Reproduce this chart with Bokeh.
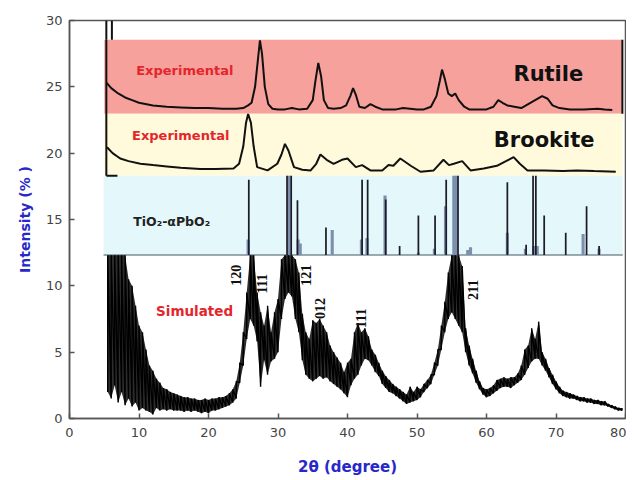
import numpy as np
from bokeh.plotting import figure
from bokeh.models import Range1d
from bokeh.core.properties import value
from bokeh.embed import file_html
from bokeh.resources import INLINE

# ---------------- data ----------------
# Rutile experimental pattern (offset trace)
rutile_x = [5.35, 6, 7, 8, 9, 10, 12, 14, 16, 18, 20, 22, 24, 25, 25.7, 26.2, 26.7, 27.1, 27.4, 27.7,
            28.1, 28.6, 29.2, 30, 31, 32, 33, 34.2, 35, 35.4, 35.8, 36.2, 36.6, 37.2, 38, 39, 39.8,
            40.4, 40.8, 41.2, 41.7, 42.5, 43.3, 44, 45, 46, 47, 48, 49, 50, 51, 52, 52.8, 53.3, 53.6,
            54.0, 54.5, 55.0, 55.5, 56.0, 56.8, 57.5, 58.5, 60, 61, 61.7, 62.3, 63, 64, 65, 66, 67,
            68, 68.8, 69.5, 70.5, 72, 74, 76, 77, 78.1]
rutile_y = [25.3, 24.9, 24.5, 24.2, 24.0, 23.8, 23.6, 23.5, 23.45, 23.4, 23.4, 23.35, 23.35, 23.4, 23.6,
            23.8, 25.0, 27.0, 28.5, 27.5, 25.0, 23.7, 23.35, 23.3, 23.3, 23.4, 23.3, 23.35, 24.0, 25.5,
            26.8, 25.8, 24.0, 23.4, 23.35, 23.4, 23.6, 24.3, 24.9, 24.4, 23.5, 23.4, 23.7, 23.5, 23.3,
            23.3, 23.3, 23.4, 23.35, 23.3, 23.3, 23.5, 24.3, 25.5, 26.3, 25.6, 24.5, 24.3, 24.5, 24.0,
            23.5, 23.3, 23.3, 23.3, 23.5, 24.0, 23.8, 23.6, 23.5, 23.4, 23.7, 24.0, 24.3, 24.1, 23.6,
            23.4, 23.3, 23.3, 23.35, 23.3, 23.25]

# Brookite experimental pattern (offset trace)
brookite_x = [5.4, 6.2, 7.3, 8.5, 10.2, 12, 14, 16, 18.8, 21, 23.6, 24.4, 25.0, 25.4, 25.7, 26.1, 26.5,
              27.0, 28.5, 29.9, 30.5, 31.0, 31.5, 32.3, 33.5, 34.7, 35.5, 36.1, 37.0, 38.0, 39.2, 40.0,
              41.2, 42.1, 43.3, 45.0, 45.9, 46.6, 47.6, 49.1, 50.5, 52.4, 53.8, 54.6, 55.3, 56.5, 57.7,
              59.6, 61.5, 62.8, 63.9, 64.8, 65.9, 68.3, 71, 73.0, 75.5, 78.6]
brookite_y = [20.45, 20.0, 19.6, 19.4, 19.2, 19.1, 19.0, 18.9, 18.8, 18.8, 18.85, 19.2, 20.5, 22.3, 22.95,
              22.3, 20.5, 18.95, 18.7, 19.2, 19.9, 20.7, 20.2, 18.95, 18.75, 18.7, 19.2, 19.9, 19.5,
              19.2, 19.5, 19.6, 18.95, 19.1, 18.7, 18.7, 19.1, 19.05, 19.6, 19.05, 18.6, 18.7, 19.5,
              19.1, 19.2, 19.4, 18.7, 18.85, 19.05, 19.4, 19.7, 19.2, 18.7, 18.7, 18.65, 18.7, 18.65, 18.6]

# TiO2-aPbO2 reference sticks
stick_dark_x = [25.8, 31.3, 31.9, 32.8, 36.9, 42.1, 42.9, 45.5, 47.5, 50.2, 52.6, 54.2, 55.9, 63.0,
                65.7, 66.7, 67.1, 68.3, 71.4, 74.4, 76.2]
stick_dark_top = [18.0, 18.3, 18.3, 16.45, 14.4, 18.0, 18.0, 16.5, 13.0, 15.3, 15.3, 18.0, 18.3, 17.8,
                  13.1, 18.3, 18.3, 15.3, 14.0, 16.0, 13.0]
stick_blue_x = [25.7, 31.6, 32.9, 33.2, 37.8, 42.0, 42.8, 45.4, 50.2, 52.5, 54.1, 55.3, 55.6, 57.3,
                57.7, 63.0, 65.6, 66.8, 67.3, 73.9, 76.2]
stick_blue_top = [13.5, 18.3, 13.5, 13.2, 14.2, 13.5, 13.6, 16.8, 12.5, 12.8, 16.0, 18.3, 18.3, 12.7,
                  12.9, 14.0, 12.8, 13.0, 13.0, 13.9, 12.8]

# Simulated pattern: upper / lower extent of the noisy trace every 0.5 degree
sim_x = [5.5 + 0.5 * i for i in range(149)]
sim_hi = [12.3, 12.3, 12.3, 12.3, 12.3, 12.3, 10.5, 10.0, 8.5, 7.0, 6.5, 5.2, 4.0, 3.6, 3.0, 2.7, 2.3,
          2.2, 2.0, 1.9, 1.8, 1.7, 1.6, 1.6, 1.5, 1.5, 1.4, 1.4, 1.5, 1.4, 1.5, 1.5, 1.6, 1.6, 1.7,
          1.9, 2.2, 2.8, 4.2, 6.5, 9.5, 12.3, 12.3, 9.5, 8.0, 7.0, 8.5, 6.5, 8.0, 9.0, 12.0, 12.3,
          12.3, 12.3, 12.0, 11.0, 7.9, 6.5, 6.0, 7.4, 7.2, 7.5, 7.0, 6.5, 5.5, 5.0, 4.6, 4.2, 3.5,
          4.2, 4.5, 6.5, 7.2, 6.5, 6.8, 6.2, 5.2, 4.8, 4.2, 3.6, 3.2, 2.9, 2.6, 2.4, 2.2, 2.0, 1.8,
          2.4, 2.0, 2.4, 2.2, 2.6, 2.9, 3.3, 4.2, 5.2, 7.0, 8.8, 11.0, 12.3, 12.3, 12.3, 11.5, 6.8,
          5.5, 4.5, 3.6, 2.8, 2.3, 2.2, 2.3, 2.5, 2.9, 3.0, 3.1, 3.0, 3.1, 3.1, 3.4, 4.0, 5.2, 5.5,
          6.8, 6.0, 7.3, 5.0, 4.5, 3.8, 3.3, 2.8, 2.4, 2.1, 2.0, 1.9, 1.8, 1.7, 1.6, 1.6, 1.5, 1.5,
          1.4, 1.4, 1.3, 1.3, 1.1, 1.0, 0.9, 0.8, 0.8]
sim_lo = [2.0, 1.5, 2.5, 1.2, 2.0, 1.0, 1.5, 0.9, 1.2, 0.6, 0.8, 0.6, 0.5, 0.3, 0.8, 0.6, 0.7, 0.6,
          0.7, 0.6, 0.6, 0.6, 0.5, 0.6, 0.5, 0.6, 0.5, 0.4, 0.5, 0.4, 0.6, 0.6, 0.7, 0.8, 0.9, 1.0,
          1.2, 1.5, 2.7, 4.0, 6.0, 7.5, 7.0, 5.8, 2.4, 4.4, 3.3, 4.3, 4.5, 5.0, 7.5, 9.0, 9.5, 9.2,
          7.5, 6.5, 4.4, 3.3, 3.0, 2.8, 3.0, 3.2, 3.0, 3.1, 2.8, 2.6, 2.4, 2.2, 1.9, 1.6, 2.5, 3.0,
          3.3, 4.0, 4.5, 4.4, 4.0, 3.5, 3.2, 2.6, 2.3, 2.0, 1.9, 1.7, 1.5, 1.3, 1.1, 1.2, 1.3, 1.4,
          1.6, 2.0, 2.3, 2.6, 3.3, 4.0, 5.2, 6.5, 7.5, 8.0, 7.5, 7.0, 6.5, 5.0, 4.0, 3.4, 2.7, 2.2,
          1.8, 1.6, 1.7, 1.9, 2.1, 2.3, 2.4, 2.4, 2.3, 2.5, 2.7, 2.9, 3.3, 3.8, 4.3, 4.5, 4.5, 4.0,
          3.6, 3.1, 2.6, 2.2, 1.9, 1.7, 1.6, 1.5, 1.5, 1.4, 1.3, 1.3, 1.2, 1.2, 1.1, 1.1, 1.0, 1.0,
          0.9, 0.8, 0.7, 0.6, 0.6]

# Background bands (Rutile, Brookite, TiO2-aPbO2)
band_left = [5.0, 5.0, 4.9]
band_right = [79.6, 79.6, 79.6]
band_bottom = [22.98, 18.3, 12.33]
band_top = [28.55, 22.98, 18.3]
band_colors = ["#F6A19C", "#FFFADC", "#E4F8FC"]

# Inset frame lines of the original offset panel
inset_x0 = [5.3, 5.3, 79.55, 5.3, 6.1]
inset_y0 = [18.3, 18.3, 22.98, 28.55, 28.55]
inset_x1 = [5.3, 6.9, 79.55, 5.3, 6.1]
inset_y1 = [28.55, 18.3, 28.55, 30.0, 30.0]

# Text annotations
exp_labels = ["Experimental", "Experimental"]
exp_x = [16.6, 16.0]
exp_y = [26.2, 21.35]
phase_labels = ["Rutile", "Brookite"]
phase_x = [68.9, 68.3]
phase_y = [26.0, 21.0]
hkl_labels = ["120", "111", "121", "012", "111", "211"]
hkl_x = [24.0, 27.7, 34.0, 36.1, 41.9, 58.1]
hkl_y = [10.8, 10.15, 10.8, 8.3, 7.55, 9.7]

x_ticks = [0, 10, 20, 30, 40, 50, 60, 70, 80]
y_ticks = [0, 5, 10, 15, 20, 25, 30]

# ---------------- figure ----------------
p = figure(width=626, height=478, output_backend="svg", toolbar_location=None,
           x_range=Range1d(0, 80), y_range=Range1d(0, 30),
           min_border_left=69, min_border_right=1, min_border_top=20, min_border_bottom=59)
p.background_fill_color = "white"
p.border_fill_color = "white"
p.outline_line_color = "#555555"
p.outline_line_width = 1.5
p.grid.visible = False

# bands
p.quad(left=band_left, right=band_right, bottom=band_bottom, top=band_top,
       fill_color=band_colors, line_color=None)
p.segment(x0=[band_left[2]], y0=[band_bottom[2]], x1=[band_right[2]], y1=[band_bottom[2]],
          line_color="#7f8c96", line_width=1.5)

# sticks
p.vbar(x=stick_blue_x, width=0.45, bottom=band_bottom[2], top=stick_blue_top,
       fill_color="#7E8FAE", line_color=None)
p.vbar(x=stick_dark_x, width=0.25, bottom=band_bottom[2], top=stick_dark_top,
       fill_color="#1c1c28", line_color=None)

# inset frame
p.segment(x0=inset_x0, y0=inset_y0, x1=inset_x1, y1=inset_y1, line_color="#111111", line_width=2)

# experimental traces
p.line(rutile_x, rutile_y, line_color="#111111", line_width=2)
p.line(brookite_x, brookite_y, line_color="#111111", line_width=2)

# simulated noisy trace: dark band between extents plus the jagged trace
p.varea(x=sim_x, y1=sim_lo, y2=sim_hi, fill_color="#000000", fill_alpha=0.82)
zx, zy = [], []
for xv, lo, hi in zip(sim_x, sim_lo, sim_hi):
    zx += [xv, xv]
    zy += [lo, hi]
p.line(zx, zy, line_color="#000000", line_width=1.4)

# texts
p.text(x=exp_x, y=exp_y, text=exp_labels, text_color="#E3262C", text_font=value("DejaVu Sans"),
       text_font_style="bold", text_font_size="13px", text_align="center", text_baseline="middle")
p.text(x=[18.0], y=[8.1], text=["Simulated"], text_color="#E3262C", text_font=value("DejaVu Sans"),
       text_font_style="bold", text_font_size="13.5px", text_align="center", text_baseline="middle")
p.text(x=phase_x, y=phase_y, text=phase_labels, text_color="#111111", text_font=value("DejaVu Sans"),
       text_font_style="bold", text_font_size="21px", text_align="center", text_baseline="middle")
p.text(x=[14.7], y=[14.85], text=["TiO\u2082-\u03b1PbO\u2082"], text_color="#222222",
       text_font=value("DejaVu Sans"), text_font_style="bold", text_font_size="12.5px",
       text_align="center", text_baseline="middle")
p.text(x=hkl_x, y=hkl_y, text=hkl_labels, angle=np.pi / 2, text_color="#111111",
       text_font=value("Liberation Serif"), text_font_style="bold", text_font_size="14px",
       text_align="center", text_baseline="middle")

# axes
for ax in (p.xaxis[0], p.yaxis[0]):
    ax.major_tick_in = 5
    ax.major_tick_out = 0
    ax.minor_tick_line_color = None
    ax.axis_line_color = "#555555"
    ax.axis_line_width = 1.5
    ax.major_tick_line_color = "#555555"
    ax.major_tick_line_width = 1.5
    ax.major_label_text_font = "DejaVu Sans"
    ax.major_label_text_font_size = "13px"
    ax.major_label_text_color = "#444444"
    ax.axis_label_text_font = "DejaVu Sans"
    ax.axis_label_text_font_style = "bold"
    ax.axis_label_text_color = "#2828C8"

p.xaxis.axis_label_text_font_size = "15px"
p.yaxis.axis_label_text_font_size = "14px"
p.xaxis.ticker = x_ticks
p.yaxis.ticker = y_ticks
p.xaxis.axis_label = "2\u03b8 (degree)"
p.yaxis.axis_label = "Intensity (% )"
p.xaxis.major_label_standoff = 9
p.xaxis.axis_label_standoff = 18
p.yaxis.major_label_standoff = 7
p.yaxis.axis_label_standoff = 10

open("out.html", "w").write(file_html(p, INLINE))
